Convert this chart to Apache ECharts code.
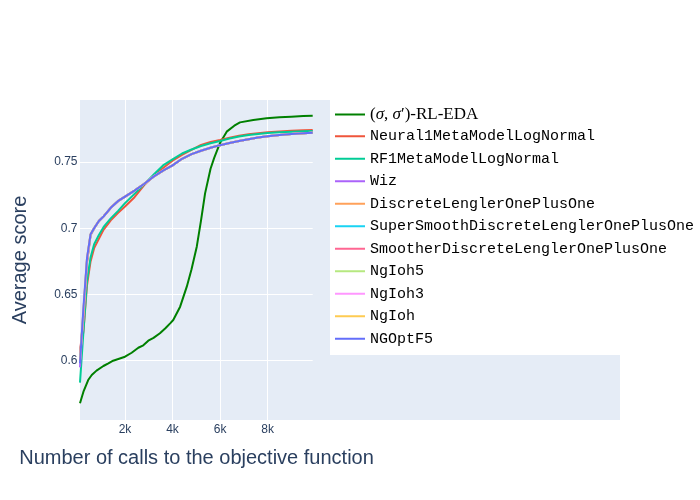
<!DOCTYPE html>
<html>
<head>
<meta charset="utf-8">
<script src="https://cdn.jsdelivr.net/npm/echarts@6/dist/echarts.min.js"></script>
<style>html,body{margin:0;padding:0;background:#fff;}#chart{width:700px;height:500px;}</style>
</head>
<body>
<div id="chart"></div>
<script>
// ---- data ----
const seriesNames = [
  "(σ, σ′)-RL-EDA", "Neural1MetaModelLogNormal", "RF1MetaModelLogNormal", "Wiz",
  "DiscreteLenglerOnePlusOne", "SuperSmoothDiscreteLenglerOnePlusOne",
  "SmootherDiscreteLenglerOnePlusOne", "NgIoh5", "NgIoh3", "NgIoh", "NGOptF5"
];
const colors = ["#008000", "#EF553B", "#00CC96", "#AB63FA", "#FFA15A", "#19D3F3",
  "#FF6692", "#B6E880", "#FF97FF", "#FECB52", "#636EFA"];

const xTickValues = [2000, 4000, 6000, 8000];
const yTickValues = [0.6, 0.65, 0.7, 0.75];

const xRlEda = [105, 250, 450, 600, 800, 1090, 1300, 1500, 1750, 2000, 2280, 2560, 2770, 2980,
  3200, 3470, 3700, 3900, 4030, 4320, 4600, 4800, 5020, 5200, 5370, 5600, 5750, 6000, 6280,
  6600, 6840, 7400, 7960, 8500, 9000, 9500, 9900];
const rlEda = [0.5678, 0.5766, 0.5854, 0.5892, 0.5925, 0.5960, 0.5980, 0.6000, 0.6015, 0.6030,
  0.6060, 0.6098, 0.6116, 0.6151, 0.6172, 0.6207, 0.6245, 0.6282, 0.6307, 0.6408, 0.6559,
  0.6690, 0.6861, 0.7060, 0.7264, 0.7450, 0.7530, 0.7645, 0.7730, 0.7775, 0.7800, 0.7818,
  0.7831, 0.7838, 0.7843, 0.7848, 0.7851];

const xCommon = [105, 250, 400, 550, 700, 900, 1100, 1400, 1700, 2000, 2400, 2800, 3200, 3600,
  4000, 4400, 4800, 5200, 5600, 6000, 6400, 6800, 7200, 7600, 8000, 8500, 9000, 9500, 9900];

const neural1 = [0.607, 0.622, 0.657, 0.675, 0.685, 0.692, 0.699, 0.706, 0.7115, 0.7165, 0.7235,
  0.7325, 0.7395, 0.7455, 0.7510, 0.7555, 0.7592, 0.7630, 0.7652, 0.7668, 0.7685, 0.7700,
  0.7710, 0.7718, 0.7725, 0.7731, 0.7736, 0.7740, 0.7743];
const rf1 = [0.5834, 0.622, 0.660, 0.678, 0.688, 0.695, 0.701, 0.7075, 0.713, 0.719, 0.726,
  0.733, 0.7405, 0.7475, 0.7520, 0.7565, 0.7595, 0.7622, 0.7643, 0.7660, 0.7678, 0.7693,
  0.7704, 0.7713, 0.7720, 0.7726, 0.7730, 0.7733, 0.7735];
const ngoptf5 = [0.598, 0.640, 0.6775, 0.6955, 0.700, 0.7055, 0.709, 0.7155, 0.7205, 0.7239,
  0.7285, 0.7335, 0.7390, 0.7435, 0.7475, 0.7525, 0.7560, 0.7586, 0.7608, 0.7628, 0.7645,
  0.7660, 0.7673, 0.7685, 0.7695, 0.7705, 0.7713, 0.7718, 0.7722];
const wiz = [0.595, 0.636, 0.676, 0.695, 0.700, 0.7055, 0.709, 0.7155, 0.7205, 0.7239,
  0.7285, 0.7335, 0.7390, 0.7435, 0.7475, 0.7525, 0.7560, 0.7586, 0.7608, 0.7628, 0.7645,
  0.7660, 0.7673, 0.7685, 0.7695, 0.7705, 0.7713, 0.7718, 0.7722];
const discreteLengler = [0.605, 0.632, 0.674, 0.695, 0.700, 0.7055, 0.709, 0.7155, 0.7205, 0.7239,
  0.7285, 0.7335, 0.7390, 0.7435, 0.7475, 0.7525, 0.7560, 0.7586, 0.7608, 0.7628, 0.7645,
  0.7660, 0.7673, 0.7685, 0.7695, 0.7705, 0.7713, 0.7718, 0.7722];
const superSmooth = [0.604, 0.633, 0.675, 0.695, 0.700, 0.7055, 0.709, 0.7155, 0.7205, 0.7239,
  0.7285, 0.7335, 0.7390, 0.7435, 0.7475, 0.7525, 0.7560, 0.7586, 0.7608, 0.7628, 0.7645,
  0.7660, 0.7673, 0.7685, 0.7695, 0.7705, 0.7713, 0.7718, 0.7722];
const smoother = [0.606, 0.632, 0.674, 0.695, 0.700, 0.7055, 0.709, 0.7155, 0.7205, 0.7239,
  0.7285, 0.7335, 0.7390, 0.7435, 0.7475, 0.7525, 0.7560, 0.7586, 0.7608, 0.7628, 0.7645,
  0.7660, 0.7673, 0.7685, 0.7695, 0.7705, 0.7713, 0.7718, 0.7722];
const ngioh5 = [0.600, 0.638, 0.677, 0.6955, 0.700, 0.7055, 0.709, 0.7155, 0.7205, 0.7239,
  0.7285, 0.7335, 0.7390, 0.7435, 0.7475, 0.7525, 0.7560, 0.7586, 0.7608, 0.7628, 0.7645,
  0.7660, 0.7673, 0.7685, 0.7695, 0.7705, 0.7713, 0.7718, 0.7722];
const ngioh3 = [0.600, 0.638, 0.677, 0.6955, 0.700, 0.7055, 0.709, 0.7155, 0.7205, 0.7239,
  0.7285, 0.7335, 0.7390, 0.7435, 0.7475, 0.7525, 0.7560, 0.7586, 0.7608, 0.7628, 0.7645,
  0.7660, 0.7673, 0.7685, 0.7695, 0.7705, 0.7713, 0.7718, 0.7722];
const ngioh = [0.600, 0.638, 0.677, 0.6955, 0.700, 0.7055, 0.709, 0.7155, 0.7205, 0.7239,
  0.7285, 0.7335, 0.7390, 0.7435, 0.7475, 0.7525, 0.7560, 0.7586, 0.7608, 0.7628, 0.7645,
  0.7660, 0.7673, 0.7685, 0.7695, 0.7705, 0.7713, 0.7718, 0.7722];

const seriesX = [xRlEda, xCommon, xCommon, xCommon, xCommon, xCommon, xCommon, xCommon, xCommon, xCommon, xCommon];
const seriesY = [rlEda, neural1, rf1, wiz, discreteLengler, superSmooth, smoother, ngioh5, ngioh3, ngioh, ngoptf5];

// ---- chart ----
const chart = echarts.init(document.getElementById('chart'), null, {renderer: 'canvas'});
const axisColor = '#2a3f5f';
const series = seriesNames.map((name, k) => ({
  name: name,
  type: 'line',
  showSymbol: false,
  symbol: 'none',
  color: colors[k],
  lineStyle: {width: 2, color: colors[k]},
  data: seriesX[k].map((x, i) => [x, seriesY[k][i]]),
  animation: false
}));

chart.setOption({
  animation: false,
  backgroundColor: '#ffffff',
  grid: {left: 77.5, right: 387.3, top: 95.9, bottom: 73.1, containLabel: false},
  graphic: [
    {type: 'rect', z: -10, silent: true, shape: {x: 80, y: 100, width: 540, height: 320}, style: {fill: '#E5ECF6'}},
    {type: 'rect', z: -9, silent: true, shape: {x: 330, y: 100, width: 290, height: 255}, style: {fill: '#ffffff'}},
    {type: 'text', x: 196.5, y: 458, silent: true,
      style: {text: 'Number of calls to the objective function', fontFamily: 'Liberation Sans', fontSize: 20,
        fill: axisColor, align: 'center', verticalAlign: 'middle'}},
    {type: 'text', x: 20.5, y: 260, rotation: Math.PI / 2, silent: true,
      style: {text: 'Average score', fontFamily: 'Liberation Sans', fontSize: 20,
        fill: axisColor, align: 'center', verticalAlign: 'middle'}}
  ],
  xAxis: {
    type: 'value', min: 0, max: 9900, interval: 2000,
    axisLine: {show: false}, axisTick: {show: false},
    splitLine: {show: true, showMinLine: false, showMaxLine: false, lineStyle: {color: '#ffffff', width: 1}},
    axisLabel: {
      showMinLabel: false, showMaxLabel: false, margin: -3,
      fontFamily: 'Liberation Sans', fontSize: 12, color: axisColor,
      formatter: v => xTickValues.indexOf(v) >= 0 ? (v / 1000) + 'k' : ''
    }
  },
  yAxis: {
    type: 'value', min: 0.55, max: 0.8, interval: 0.05,
    axisLine: {show: false}, axisTick: {show: false},
    splitLine: {show: true, showMinLine: false, showMaxLine: false, lineStyle: {color: '#ffffff', width: 1}},
    axisLabel: {
      showMinLabel: false, showMaxLabel: false, margin: 0,
      fontFamily: 'Liberation Sans', fontSize: 12, color: axisColor,
      formatter: v => {
        const r = Math.round(v * 100) / 100;
        return yTickValues.some(t => Math.abs(t - r) < 1e-9) ? String(r) : '';
      }
    }
  },
  legend: {
    show: true, orient: 'vertical', left: 330, top: 99,
    padding: 5, itemGap: 0, itemWidth: 30, itemHeight: 2, icon: 'rect',
    selectedMode: false,
    data: seriesNames,
    formatter: name => name === seriesNames[0]
      ? '{s|(}{i|σ}{s|, }{i|σ}{s|′)-RL-EDA}'
      : name,
    textStyle: {
      fontFamily: 'Liberation Mono', fontSize: 15, color: '#000000', lineHeight: 22.5,
      rich: {
        s: {fontFamily: 'Liberation Serif', fontSize: 17, color: '#000000', lineHeight: 21},
        i: {fontFamily: 'Liberation Serif', fontStyle: 'italic', fontSize: 17, color: '#000000', lineHeight: 21}
      }
    }
  },
  series: series
});
</script>
</body>
</html>
